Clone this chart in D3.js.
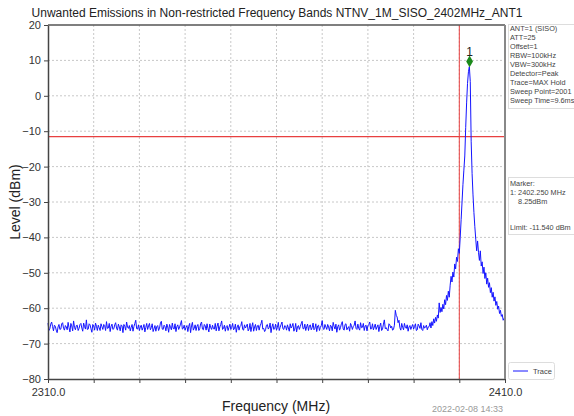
<!DOCTYPE html>
<html>
<head>
<meta charset="utf-8">
<script src="https://cdn.jsdelivr.net/npm/d3@7"></script>
<style>
  body { margin: 0; background: #fff; }
  svg { font-family: "Liberation Sans", Arial, sans-serif; }
</style>
</head>
<body>
<div id="chart"></div>
<script>
// sweep grid: noise floor read at 0.4 MHz steps plus the in-between points,
// finer 0.2 MHz points around the carrier
var floorStart = 2310.0, floorStep = 0.4;
var floorLevels = [
  -64.2,-65.8,-63.9,-66.4,-65.1,-66.9,-64.6,-65.9,-64.1,-66.2,
  -65.3,-64.0,-66.7,-65.0,-63.6,-66.1,-64.8,-65.7,-64.3,-66.5,
  -65.2,-63.3,-65.9,-64.7,-66.8,-65.0,-64.2,-66.3,-65.5,-64.4,
  -66.0,-64.9,-63.8,-65.6,-66.6,-64.5,-65.8,-64.1,-66.2,-65.3,
  -64.7,-66.9,-65.1,-63.9,-65.7,-66.4,-64.6,-65.2,-63.4,-65.9,
  -66.3,-64.8,-65.5,-66.7,-64.3,-65.0,-66.1,-64.4,-65.8,-66.5,
  -64.9,-65.6,-63.7,-66.0,-65.2,-64.5,-66.8,-65.4,-64.2,-65.9,
  -66.6,-64.7,-65.3,-63.5,-65.7,-66.2,-64.9,-65.1,-66.9,-64.0,
  -65.6,-66.3,-64.6,-65.8,-63.9,-66.1,-65.0,-64.4,-66.7,-65.5,
  -64.8,-65.9,-66.4,-64.2,-65.3,-63.6,-65.7,-66.5,-64.9,-65.4,
  -66.0,-64.3,-65.8,-66.8,-64.7,-65.2,-63.8,-66.2,-65.6,-64.5,
  -65.9,-66.6,-64.1,-65.3,-66.3,-64.8,-65.0,-63.4,-65.7,-66.1,
  -64.6,-65.5,-66.9,-64.4,-65.8,-66.2,-64.0,-65.4,-63.9,-66.0,
  -65.1,-64.7,-66.5,-65.6,-64.3,-65.9,-66.7,-64.9,-65.2,-63.7,
  -65.8,-66.3,-64.5,-65.0,-66.1,-64.2,-65.7,-66.6,-64.8,-65.4,
  -63.5,-66.0,-65.3,-64.6,-66.4,-65.1,-64.0,-65.9,-66.8,-64.7,
  -65.5,-63.8,-66.2,-64.4,-65.6,-66.5,-64.9,-65.2,-63.6,-66.0,
  -65.7,-64.1,-65.4,-66.3,-64.8,-65.0,-63.9,-65.8,-66.1,-64.5,
  -65.3,-66.6,-64.2,-65.9,-63.3,-65.5,-66.4,-64.7,-65.1,-66.0,
  -60.6,-62.5,-63.4,-66.2,-65.4,-64.3,-65.7,-66.5,-64.9,-65.2,
  -65.9,-64.4,-66.1,-65.0,-64.1,-66.3,-65.6,-64.8,-65.3
];
// points half way between the floor points above
var floorMidLevels = [
  -66.3,-64.5,-65.2,-64.8,-66.2,-65.3,-66.0,-64.4,-65.7,-64.9,
  -66.1,-65.5,-64.3,-66.4,-65.4,-64.9,-66.3,-64.6,-65.6,-64.2,
  -65.9,-66.0,-64.4,-65.8,-64.6,-66.2,-65.1,-64.8,-66.3,-65.2,
  -64.6,-66.3,-65.7,-64.3,-65.1,-66.0,-64.7,-65.6,-64.5,-66.4,
  -65.0,-64.6,-66.2,-65.3,-64.9,-65.4,-66.5,-64.3,-65.8,-64.7,
  -65.3,-66.2,-64.6,-65.4,-66.0,-64.3,-65.5,-66.6,-64.9,-65.2,
  -66.3,-64.2,-65.9,-64.8,-66.4,-65.3,-64.6,-66.1,-65.7,-64.4,
  -65.2,-66.0,-64.5,-65.9,-64.8,-65.4,-66.6,-64.3,-65.0,-66.2,
  -64.7,-65.1,-66.3,-64.4,-65.9,-64.6,-66.2,-65.7,-64.5,-66.0,
  -65.8,-64.3,-65.1,-66.4,-64.6,-66.0,-64.8,-65.2,-66.3,-64.5,
  -65.4,-66.1,-64.5,-65.3,-66.2,-64.9,-66.0,-64.7,-65.1,-66.4,
  -64.3,-65.2,-66.5,-64.6,-65.0,-66.2,-64.4,-65.9,-66.6,-64.8,
  -65.9,-64.2,-65.3,-66.0,-64.5,-65.4,-66.3,-64.6,-65.8,-64.9,
  -66.2,-65.6,-64.4,-65.1,-66.5,-64.3,-65.2,-66.0,-64.4,-65.8,
  -64.5,-65.2,-66.3,-64.7,-65.5,-66.1,-64.4,-65.0,-66.3,-64.9,
  -65.8,-64.6,-66.0,-65.3,-64.8,-66.4,-65.1,-64.5,-65.2,-66.2,
  -64.4,-65.9,-64.6,-66.1,-65.2,-64.3,-66.0,-64.8,-65.7,-64.5,
  -66.2,-65.5,-64.3,-65.0,-66.4,-64.6,-65.9,-64.4,-65.3,-66.0,
  -64.7,-65.1,-66.3,-64.5,-65.8,-66.0,-64.4,-65.6,-66.2,-64.8,
  -62.0,-64.1,-65.5,-64.3,-66.1,-65.4,-64.7,-65.3,-66.0,-64.6,
  -65.2,-66.3,-64.5,-65.7,-66.0,-64.9,-65.4,-66.1
];
var peakStart = 2393.4, peakStep = 0.2;
var peakLevels = [
  -65.2,-64.1,-65.6,-63.8,-64.9,-63.0,-64.2,-62.6,-63.7,-61.9,
  -62.8,-58.5,-61.2,-59.8,-61.0,-58.9,-60.2,-57.6,-59.0,-56.4,
  -57.8,-55.2,-56.9,-53.5,-51.0,-52.6,-49.8,-51.2,-47.5,-48.9,
  -45.6,-46.8,-43.2,-44.5,-40.0,-35.0,-30.0,-25.0,-21.0,-17.0,
  -9.0,-2.0,3.5,6.8,8.25,4.0,-13.0,-22.0,-28.0,-33.0,
  -37.0,-40.5,-43.8,-41.0,-44.2,-46.5,-43.8,-48.1,-46.9,-50.2,
  -48.4,-51.6,-50.0,-53.2,-51.5,-54.1,-52.8,-55.6,-54.2,-56.9,
  -55.5,-58.0,-56.8,-59.2,-58.1,-60.3,-59.4,-61.5,-60.6,-62.3,
  -61.8,-63.4,-62.9,-64.0
];

var limitLevel = -11.54;
var edgeFreq = 2400.0;
var markerFreq = 2402.25;
var markerPlotLevel = 9.7;

var yTicks = [20, 10, 0, -10, -20, -30, -40, -50, -60, -70, -80];
var xTicks = [2310, 2320, 2330, 2340, 2350, 2360, 2370, 2380, 2390, 2400, 2410];
var xTickLabels = ["2310.0", "", "", "", "", "", "", "", "", "", "2410.0"];

var settingsText = ["ANT=1 (SISO)", "ATT=25", "Offset=1", "RBW=100kHz", "VBW=300kHz",
  "Detector=Peak", "Trace=MAX Hold", "Sweep Point=2001", "Sweep Time=9.6ms"];
var markerText = ["Marker:", "1: 2402.250 MHz", "    8.25dBm", "", "", "Limit: -11.540 dBm"];

// build trace data
var trace = [];
floorLevels.forEach(function (v, i) {
  trace.push({ f: floorStart + i * floorStep, v: v });
  if (i < floorMidLevels.length)
    trace.push({ f: floorStart + i * floorStep + floorStep / 2, v: floorMidLevels[i] });
});
peakLevels.forEach(function (v, i) { trace.push({ f: peakStart + i * peakStep, v: v }); });

var svgWidth = 574, svgHeight = 416;
var margin = { top: 25, right: 69, bottom: 37, left: 48 };
var width = svgWidth - margin.left - margin.right;
var height = svgHeight - margin.top - margin.bottom;

var svg = d3.select("#chart").append("svg")
  .attr("width", svgWidth)
  .attr("height", svgHeight);

svg.append("text")
  .attr("x", 277).attr("y", 17)
  .attr("text-anchor", "middle")
  .style("font-size", "12px")
  .attr("fill", "#222")
  .text("Unwanted Emissions in Non-restricted Frequency Bands NTNV_1M_SISO_2402MHz_ANT1");

var chart = svg.append("g")
  .attr("transform", `translate(${margin.left}, ${margin.top})`);

var x = d3.scaleLinear().domain([2310, 2410]).range([0, width]);
var y = d3.scaleLinear().domain([-80, 20]).range([height, 0]);

// grid
chart.append("g").selectAll("line")
  .data(yTicks.slice(1, -1)).enter().append("line")
  .attr("x1", 0).attr("x2", width)
  .attr("y1", d => y(d)).attr("y2", d => y(d))
  .attr("stroke", "#c8c8c8").attr("stroke-dasharray", "2,2");
chart.append("g").selectAll("line")
  .data(xTicks.slice(1, -1)).enter().append("line")
  .attr("y1", 0).attr("y2", height)
  .attr("x1", d => x(d)).attr("x2", d => x(d))
  .attr("stroke", "#c8c8c8").attr("stroke-dasharray", "2,2");

// limit & band edge lines
chart.append("line")
  .attr("x1", 0).attr("x2", width)
  .attr("y1", y(limitLevel)).attr("y2", y(limitLevel))
  .attr("stroke", "#e84040").attr("stroke-width", 1.2);
chart.append("line")
  .attr("x1", x(edgeFreq)).attr("x2", x(edgeFreq))
  .attr("y1", 0).attr("y2", height)
  .attr("stroke", "#e84040").attr("stroke-width", 1);

// trace
var line = d3.line().x(d => x(d.f)).y(d => y(d.v));
chart.append("path")
  .datum(trace)
  .attr("d", line)
  .attr("fill", "none")
  .attr("stroke", "#1414ff")
  .attr("stroke-width", 1)
  .attr("stroke-linejoin", "round");

// marker
chart.append("path")
  .attr("d", d3.symbol().type(d3.symbolDiamond).size(40))
  .attr("transform", `translate(${x(markerFreq)}, ${y(markerPlotLevel)})`)
  .attr("fill", "#1a8a1a");
chart.append("text")
  .attr("x", x(markerFreq)).attr("y", y(markerPlotLevel) - 5)
  .attr("text-anchor", "middle")
  .style("font-size", "12px")
  .attr("fill", "#222")
  .text("1");

// axes
var bottomAxis = d3.axisBottom(x).tickValues(xTicks)
  .tickFormat((d, i) => xTickLabels[i]).tickSize(4).tickSizeOuter(0);
var leftAxis = d3.axisLeft(y).tickValues(yTicks).tickSize(4).tickSizeOuter(0);

var gx = chart.append("g").attr("transform", `translate(0, ${height})`).call(bottomAxis);
var gy = chart.append("g").call(leftAxis);
[gx, gy].forEach(function (g) {
  g.select(".domain").attr("stroke", "#444").attr("stroke-width", 1.5);
  g.selectAll(".tick line").attr("stroke", "#444");
  g.selectAll("text").style("font-size", "11px").attr("fill", "#333")
    .style("font-family", "'Liberation Sans', Arial, sans-serif");
});
gx.selectAll("text").attr("dy", "0.9em");

// top and right frame
chart.append("line").attr("x1", 0).attr("x2", width).attr("y1", 0).attr("y2", 0)
  .attr("stroke", "#555").attr("stroke-width", 1.5);
chart.append("line").attr("x1", width).attr("x2", width).attr("y1", 0).attr("y2", height)
  .attr("stroke", "#888").attr("stroke-width", 2);

// axis labels
svg.append("text")
  .attr("x", 276).attr("y", 411)
  .attr("text-anchor", "middle")
  .style("font-size", "14px").attr("fill", "#222")
  .text("Frequency (MHz)");
svg.append("text")
  .attr("transform", "translate(20, 202) rotate(-90)")
  .attr("text-anchor", "middle")
  .style("font-size", "14px").attr("fill", "#222")
  .text("Level (dBm)");
svg.append("text")
  .attr("x", 503).attr("y", 412)
  .attr("text-anchor", "end")
  .style("font-size", "9px").attr("fill", "#999")
  .text("2022-02-08 14:33");

// side panels
function panel(lines, top, h, first, step) {
  svg.append("rect")
    .attr("x", 508.5).attr("y", top).attr("width", 70).attr("height", h)
    .attr("fill", "#fff").attr("stroke", "#ddd");
  svg.append("g").selectAll("text")
    .data(lines).enter().append("text")
    .attr("x", 510)
    .attr("y", (d, i) => first + i * step)
    .style("font-size", "7.3px").attr("fill", "#444")
    .attr("xml:space", "preserve")
    .text(d => d);
}
panel(settingsText, 24.5, 84, 31, 9);
panel(markerText, 177.5, 57, 186, 8.8);

// legend
var lg = svg.append("g");
lg.append("rect").attr("x", 508.5).attr("y", 362.5).attr("width", 46).attr("height", 17)
  .attr("rx", 2).attr("fill", "#fff").attr("stroke", "#ddd");
lg.append("line").attr("x1", 513).attr("x2", 528).attr("y1", 371).attr("y2", 371)
  .attr("stroke", "#1414ff");
lg.append("text").attr("x", 533).attr("y", 374)
  .style("font-size", "7.5px").attr("fill", "#444").text("Trace");
</script>
</body>
</html>
